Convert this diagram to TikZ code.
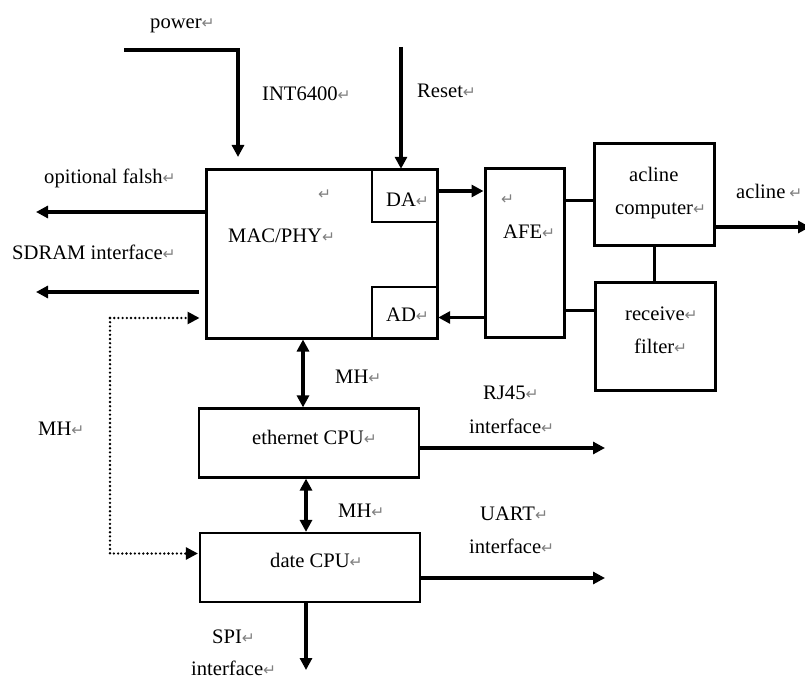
\documentclass[tikz,border=0pt]{standalone}
\usepackage{fontspec}
\setmainfont{Liberation Serif}
\newfontfamily\retfont[Scale=0.75]{DejaVu Sans}
\usetikzlibrary{arrows.meta}
\newcommand{\rt}{{\retfont\textcolor{gray}{↵}}}

\begin{document}
\begin{tikzpicture}[x=1pt,y=-1pt,
  >={Triangle[length=12pt,width=12pt]},
  blk/.style={draw,line width=3pt,inner sep=0pt},
  arr/.style={->,line width=3.2pt},
  darr/.style={<->,line width=3.2pt},
  ln/.style={line width=3pt},
  dotarr/.style={->,line width=2.6pt,line cap=round,dash pattern=on 0pt off 4.2pt},
  lbl/.style={font=\fontsize{20.6}{23}\selectfont,inner sep=0pt,anchor=base west}]
  \useasboundingbox (0,0) rectangle (805,684);
  % blocks
  \node[blk,minimum width=231pt,minimum height=168pt] (mac) at (321.5,254) {};
  \node[blk,line width=2.4pt,minimum width=65pt,minimum height=52pt] (da) at (404.5,196) {};
  \node[blk,line width=2.4pt,minimum width=65pt,minimum height=51pt] (ad) at (404.5,312.5) {};
  \node[blk,minimum width=79pt,minimum height=168pt] (afe) at (524.5,253) {};
  \node[blk,minimum width=120pt,minimum height=102pt] (acl) at (654,195) {};
  \node[blk,minimum width=120pt,minimum height=107pt] (rf) at (655,336.5) {};
  \node[blk,line width=2.2pt,minimum width=220pt,minimum height=69pt] (eth) at (309,443) {};
  \node[blk,line width=2.2pt,minimum width=220pt,minimum height=69pt] (date) at (310,567.5) {};
  % texts
  \node[lbl] (tpower) at (150,29) {power\rt};
  \node[lbl] (tint) at (262,101) {INT6400\rt};
  \node[lbl] (treset) at (417,98) {Reset\rt};
  \node[lbl] (tflash) at (44,184) {opitional falsh\rt};
  \node[lbl] (tsdram) at (12,260) {SDRAM interface\rt};
  \node[lbl] (tmac) at (228,243) {MAC/PHY\rt};
  \node[lbl] (tmacr) at (318,200) {\rt};
  \node[lbl] (tda) at (386,207) {DA\rt};
  \node[lbl] (tad) at (386,321) {AD\rt};
  \node[lbl] (tafe) at (503,239) {AFE\rt};
  \node[lbl] (tafer) at (501,205) {\rt};
  \node[lbl] (tacl) at (629,182) {acline};
  \node[lbl] (tcomp) at (615,215) {computer\rt};
  \node[lbl] (trec) at (625,320) {receive\rt};
  \node[lbl] (tfil) at (634,353) {filter\rt};
  \node[lbl] (tacout) at (736,199) {acline\hspace{4pt}\rt};
  \node[lbl] (tmh1) at (335,383) {MH\rt};
  \node[lbl] (tmh2) at (38,435) {MH\rt};
  \node[lbl] (teth) at (252,444) {ethernet CPU\rt};
  \node[lbl] (trj) at (483,399) {RJ45\rt};
  \node[lbl] (trji) at (469,433) {interface\rt};
  \node[lbl] (tmh3) at (338,517) {MH\rt};
  \node[lbl] (tuart) at (480,520) {UART\rt};
  \node[lbl] (tuarti) at (469,553) {interface\rt};
  \node[lbl] (tdate) at (270,567) {date CPU\rt};
  \node[lbl] (tspi) at (212,643) {SPI\rt};
  \node[lbl] (tspii) at (191,675) {interface\rt};
  % free ends
  \coordinate (pw) at (124,50);
  \coordinate (pwend) at (238,157);
  \coordinate (rs) at (401,47);
  \coordinate (fl) at (36,212);
  \coordinate (sd) at (36,292);
  \coordinate (dt) at (110,318);
  \coordinate (ac) at (810,227);
  \coordinate (rj) at (605,448);
  \coordinate (ua) at (605,578);
  \coordinate (sp) at (306,670);
  \coordinate (lk1) at (0,201);
  \coordinate (lk2) at (0,311);
  % connectors
  \draw[arr] (pw) -| (pwend);
  \draw[arr] (rs) -- (rs |- da.north);
  \draw[arr] (fl -| mac.west) -- (fl);
  \draw[arr] ([xshift=-6pt]sd -| mac.west) -- (sd);
  \draw[dotarr] (dt) -- ([xshift=-5pt]dt -| mac.west);
  \draw[dotarr] (dt) |- ([xshift=-1pt,yshift=14pt]date.west);
  \draw[arr] ([yshift=5pt]da.east) -- ([yshift=5pt]da.east -| afe.west);
  \draw[arr] ([yshift=-5pt]ad.east -| afe.west) -- ([yshift=-5pt]ad.east);
  \draw[ln] (lk1 -| afe.east) -- (lk1 -| acl.west);
  \draw[ln] (lk2 -| afe.east) -- (lk2 -| rf.west);
  \draw[ln] (acl.south) -- (acl.south |- rf.north);
  \draw[arr] (ac -| acl.east) -- (ac);
  \draw[darr] ([xshift=-6pt]eth.north |- mac.south) -- ([xshift=-6pt]eth.north);
  \draw[darr] ([xshift=-3pt]eth.south) -- ([xshift=-3pt]eth.south |- date.north);
  \draw[arr] (rj -| eth.east) -- (rj);
  \draw[arr] (ua -| date.east) -- (ua);
  \draw[arr] (sp |- date.south) -- (sp);
\end{tikzpicture}
\end{document}
